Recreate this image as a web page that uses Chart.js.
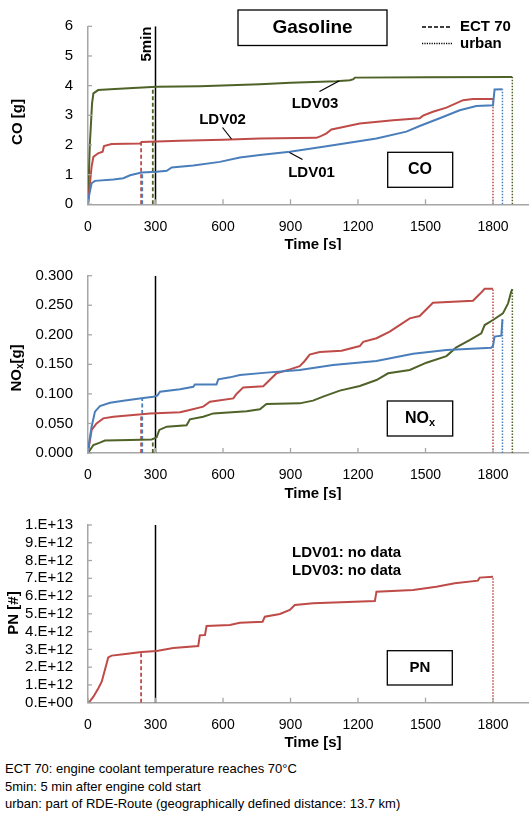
<!DOCTYPE html>
<html><head><meta charset="utf-8">
<script src="https://cdn.jsdelivr.net/npm/chart.js@4/dist/chart.umd.min.js"></script>
<style>
html,body{margin:0;padding:0;background:#fff;overflow:hidden;width:529px;height:813px;position:relative;}
canvas{position:absolute;left:0;}
#note{position:absolute;left:5px;top:760px;font:13px "Liberation Sans",Arial,sans-serif;line-height:17.7px;color:#000;white-space:nowrap;}
</style></head><body>
<canvas id="co" width="545" height="250" style="top:0px"></canvas>
<canvas id="nox" width="545" height="250" style="top:250px"></canvas>
<canvas id="pn" width="545" height="255" style="top:500px"></canvas>
<div id="note">ECT 70: engine coolant temperature reaches 70°C<br>5min: 5 min after engine cold start<br>urban: part of RDE-Route (geographically defined distance: 13.7 km)</div>
<script>
// ---------------- DATA ----------------
const timeTicks = [0, 300, 600, 900, 1200, 1500, 1800];
const coTickLabels = ['0','1','2','3','4','5','6'];
const noxTickLabels = ['0.000','0.050','0.100','0.150','0.200','0.250','0.300'];
const pnTickLabels = ['0.E+00','1.E+12','2.E+12','3.E+12','4.E+12','5.E+12','6.E+12','7.E+12','8.E+12','9.E+12','1.E+13'];

// CO [g]
const coT_LDV01 = [0, 5, 16, 31, 113, 157, 187, 238, 305, 350, 372, 468, 586, 675, 764, 897, 1060, 1282, 1415, 1474, 1563, 1652, 1726, 1800, 1807, 1842];
const coV_LDV01 = [0, 0.3, 0.71, 0.79, 0.84, 0.88, 0.98, 1.07, 1.10, 1.13, 1.24, 1.31, 1.43, 1.58, 1.66, 1.77, 1.96, 2.22, 2.45, 2.64, 2.90, 3.17, 3.31, 3.34, 3.87, 3.88];
const coT_LDV02 = [0, 6, 16, 24, 45, 65, 71, 105, 231, 238, 305, 409, 600, 764, 1015, 1035, 1060, 1082, 1119, 1208, 1356, 1474, 1489, 1533, 1593, 1667, 1711, 1800];
const coV_LDV02 = [0, 0.5, 1.27, 1.6, 1.72, 1.77, 1.96, 2.03, 2.05, 2.10, 2.12, 2.14, 2.18, 2.22, 2.24, 2.30, 2.39, 2.52, 2.58, 2.72, 2.83, 2.90, 2.99, 3.12, 3.26, 3.51, 3.55, 3.55];
const coT_LDV03 = [0, 8, 18, 24, 45, 100, 200, 305, 497, 764, 900, 1104, 1164, 1180, 1186, 1500, 1886];
const coV_LDV03 = [0, 2.0, 3.4, 3.74, 3.85, 3.88, 3.92, 3.96, 3.98, 4.05, 4.10, 4.15, 4.18, 4.22, 4.27, 4.28, 4.29];

// NOx [g]
const noxT_LDV01 = [0, 6, 16, 31, 53, 98, 157, 238, 290, 308, 320, 409, 468, 475, 571, 579, 631, 675, 793, 897, 941, 1089, 1282, 1445, 1593, 1792, 1800, 1807, 1837, 1842];
const noxV_LDV01 = [0, 0.02, 0.0445, 0.07, 0.0795, 0.085, 0.0885, 0.0925, 0.0953, 0.097, 0.1037, 0.108, 0.112, 0.116, 0.116, 0.1246, 0.128, 0.132, 0.136, 0.139, 0.1404, 0.149, 0.1557, 0.168, 0.1743, 0.178, 0.181, 0.197, 0.1985, 0.226];
const noxT_LDV02 = [0, 6, 16, 38, 68, 113, 238, 275, 409, 438, 512, 542, 646, 660, 690, 779, 838, 897, 941, 963, 985, 1030, 1127, 1208, 1223, 1282, 1341, 1385, 1430, 1474, 1533, 1711, 1741, 1763, 1800];
const noxV_LDV02 = [0, 0.015, 0.0389, 0.05, 0.0586, 0.0614, 0.0654, 0.067, 0.0688, 0.0716, 0.0784, 0.0868, 0.0924, 0.0998, 0.111, 0.113, 0.135, 0.1415, 0.147, 0.1557, 0.1665, 0.171, 0.173, 0.181, 0.188, 0.1942, 0.2053, 0.2165, 0.2278, 0.2318, 0.2543, 0.2577, 0.2689, 0.278, 0.278];
const noxT_LDV03 = [0, 24, 53, 75, 187, 283, 305, 317, 350, 438, 453, 512, 557, 705, 764, 793, 941, 1000, 1045, 1119, 1208, 1282, 1334, 1430, 1504, 1593, 1637, 1696, 1748, 1763, 1800, 1844, 1867, 1881, 1886];
const noxV_LDV03 = [0, 0.0135, 0.0175, 0.021, 0.022, 0.023, 0.0265, 0.039, 0.0445, 0.0468, 0.057, 0.0614, 0.067, 0.0705, 0.074, 0.083, 0.084, 0.0886, 0.0953, 0.1055, 0.1134, 0.1235, 0.1348, 0.1404, 0.1528, 0.164, 0.1787, 0.191, 0.2025, 0.2165, 0.225, 0.2363, 0.2532, 0.273, 0.2774];

// PN [#] (LDV02 only)
const pnT_LDV02 = [0, 10, 24, 46, 61, 75, 90, 105, 157, 238, 305, 379, 490, 497, 520, 527, 631, 675, 776, 786, 853, 897, 919, 1001, 1275, 1282, 1445, 1548, 1630, 1733, 1741, 1800];
const pnV_LDV02 = [0, 0.1e12, 0.34e12, 0.81e12, 1.18e12, 1.84e12, 2.55e12, 2.65e12, 2.72e12, 2.85e12, 2.91e12, 3.08e12, 3.19e12, 3.79e12, 3.81e12, 4.32e12, 4.37e12, 4.5e12, 4.56e12, 4.84e12, 4.99e12, 5.22e12, 5.5e12, 5.59e12, 5.72e12, 6.25e12, 6.34e12, 6.53e12, 6.72e12, 6.87e12, 7.04e12, 7.09e12];

// markers: ECT 70 (dashed), urban end (dotted), 5min (solid)
const ectTime = {LDV01: 241, LDV02: 236, LDV03: 288};
const urbanTime = {LDV01: 1842, LDV02: 1800, LDV03: 1886};
const fiveMin = 300;
const coEct = {LDV01: 1.07, LDV02: 2.10, LDV03: 3.96};
const coUrban = {LDV01: 3.88, LDV02: 3.55, LDV03: 4.29};
const noxEct = {LDV01: 0.0925, LDV02: 0.0654, LDV03: 0.023};
const noxUrban = {LDV01: 0.226, LDV02: 0.278, LDV03: 0.2774};
const pnEct = {LDV02: 2.85e12};
const pnUrban = {LDV02: 7.09e12};

// ---------------- STYLE ----------------
const FONT = '"Liberation Sans", Arial, sans-serif';
const COL = {LDV01: '#4a7ebb', LDV02: '#be4b48', LDV03: '#4f6228'};
const AXIS = '#a6a6a6';

function series(t, v, c) {
  return {data: t.map((x, i) => ({x: x, y: v[i]})), borderColor: c, borderWidth: 2, pointRadius: 0, tension: 0, fill: false, order: 1};
}
function vline(t, top, c, dash, w) {
  return {data: [{x: t, y: 0}, {x: t, y: top}], borderColor: c, borderWidth: w, borderDash: dash, pointRadius: 0, fill: false, order: 2};
}
function markers(ect, urban, yTop) {
  const out = [];
  Object.keys(ect).forEach(k => out.push(vline(ectTime[k], ect[k], COL[k], [4, 2.5], 1.8)));
  Object.keys(urban).forEach(k => out.push(vline(urbanTime[k], urban[k], COL[k], [1.5, 1.5], 1.5)));
  out.push(vline(fiveMin, yTop, '#000', [], 1.5));
  return out;
}

// drawing helpers
function txt(ctx, s, x, y, size, bold, align) {
  ctx.save();
  ctx.font = (bold ? 'bold ' : '') + size + 'px ' + FONT;
  ctx.fillStyle = '#000'; ctx.textAlign = align || 'center'; ctx.textBaseline = 'middle';
  ctx.fillText(s, x, y); ctx.restore();
}
function box(ctx, x1, y1, x2, y2, w) {
  ctx.save(); ctx.fillStyle = '#fff'; ctx.fillRect(x1, y1, x2 - x1, y2 - y1);
  ctx.strokeStyle = '#000'; ctx.lineWidth = w || 1.3; ctx.strokeRect(x1, y1, x2 - x1, y2 - y1); ctx.restore();
}
function seg(ctx, x1, y1, x2, y2, c, w, dash) {
  ctx.save(); ctx.strokeStyle = c; ctx.lineWidth = w; ctx.setLineDash(dash || []);
  ctx.beginPath(); ctx.moveTo(x1, y1); ctx.lineTo(x2, y2); ctx.stroke(); ctx.restore();
}
function richWidth(ctx, parts) {
  let w = 0; parts.forEach(p => { ctx.font = 'bold ' + p[1] + 'px ' + FONT; w += ctx.measureText(p[0]).width; }); return w;
}
function rich(ctx, parts, cx, cy, rot) {
  ctx.save(); ctx.translate(cx, cy); if (rot) ctx.rotate(-Math.PI / 2);
  const w = richWidth(ctx, parts); let x = -w / 2;
  ctx.fillStyle = '#000'; ctx.textBaseline = 'middle'; ctx.textAlign = 'left';
  parts.forEach(p => { ctx.font = 'bold ' + p[1] + 'px ' + FONT; ctx.fillText(p[0], x, p[2]); x += ctx.measureText(p[0]).width; });
  ctx.restore();
}
function common(ctx, chart, titleParts, tx, ty) {
  const xs = chart.scales.x, ys = chart.scales.y, a = chart.chartArea;
  ys.ticks.forEach(t => { const y = ys.getPixelForValue(t.value); seg(ctx, a.left, y, a.left + 4, y, AXIS, 1.3); });
  xs.ticks.forEach(t => { const x = xs.getPixelForValue(t.value); seg(ctx, x, a.bottom, x, a.bottom - 5, AXIS, 1.3); });
  rich(ctx, titleParts, tx, ty, true);
  txt(ctx, 'Time [s]', 313, a.bottom + 40.5, 15, true);
}

function build(id, H, top, bottom, yMin, yMax, yStep, labels, datasets, decor) {
  return new Chart(document.getElementById(id), {
    type: 'line',
    data: {datasets: datasets},
    options: {
      responsive: false, animation: false, events: [],
      layout: {padding: {top: top, right: 7, left: 0, bottom: 0}},
      plugins: {legend: {display: false}, tooltip: {enabled: false}},
      scales: {
        x: {type: 'linear', min: 0, max: 2000,
            afterBuildTicks: s => { s.ticks = timeTicks.map(v => ({value: v})); },
            ticks: {callback: (v, i) => String(timeTicks[i]), padding: 14, color: '#000', font: {size: 14, family: FONT}, maxRotation: 0, autoSkip: false},
            grid: {drawOnChartArea: false, drawTicks: false}, border: {color: AXIS, width: 1.5},
            afterFit: s => { s.height = H - bottom; }},
        y: {type: 'linear', min: yMin, max: yMax,
            afterBuildTicks: s => { s.ticks = labels.map((l, i) => ({value: yMin + i * yStep})); },
            ticks: {callback: (v, i) => labels[i], padding: 15, color: '#000', font: {size: 15, family: FONT}, autoSkip: false},
            grid: {drawOnChartArea: false, drawTicks: false}, border: {color: AXIS, width: 1.5},
            afterFit: s => { s.width = 88; }}
      }
    },
    plugins: [{id: 'decor', afterDatasetsDraw(chart) { decor(chart.ctx, chart); }}]
  });
}

// ---------------- CO ----------------
build('co', 250, 26.3, 204.3, 0, 6, 1, coTickLabels,
  [series(coT_LDV01, coV_LDV01, COL.LDV01), series(coT_LDV02, coV_LDV02, COL.LDV02), series(coT_LDV03, coV_LDV03, COL.LDV03)]
    .concat(markers(coEct, coUrban, 6)),
  (ctx, chart) => {
    common(ctx, chart, [['CO [g]', 15, 0]], 18, 122);
    ctx.save(); ctx.translate(146.5, 44); ctx.rotate(-Math.PI / 2);
    txt(ctx, '5min', 0, 0, 15, true); ctx.restore();
    box(ctx, 238, 10, 387, 45.5, 1.3);
    txt(ctx, 'Gasoline', 312.5, 28, 19, true);
    seg(ctx, 422, 27, 452, 27, '#000', 1.5, [4, 2]);
    txt(ctx, 'ECT 70', 460, 27, 15, true, 'left');
    seg(ctx, 422, 43.5, 452, 43.5, '#000', 1.5, [1.2, 1.2]);
    txt(ctx, 'urban', 460, 43.5, 15, true, 'left');
    txt(ctx, 'LDV03', 315, 103.5, 15, true);
    seg(ctx, 319.5, 91.5, 339, 81, '#000', 1.2);
    txt(ctx, 'LDV02', 222.5, 119.5, 15, true);
    seg(ctx, 222.5, 127.5, 231.5, 139, '#000', 1.2);
    txt(ctx, 'LDV01', 311.5, 173, 15, true);
    seg(ctx, 302.5, 159.5, 289.5, 152.5, '#000', 1.2);
    box(ctx, 387.7, 152.3, 452.7, 187.3, 1.3);
    txt(ctx, 'CO', 420, 170, 16, true);
  });

// ---------------- NOx ----------------
build('nox', 250, 25.7, 203, 0, 0.3, 0.05, noxTickLabels,
  [series(noxT_LDV01, noxV_LDV01, COL.LDV01), series(noxT_LDV02, noxV_LDV02, COL.LDV02), series(noxT_LDV03, noxV_LDV03, COL.LDV03)]
    .concat(markers(noxEct, noxUrban, 0.3)),
  (ctx, chart) => {
    common(ctx, chart, [['NO', 15, 0], ['x', 10, 4], ['[g]', 15, 0]], 16.5, 118);
    box(ctx, 387.3, 151, 452.7, 186, 1.3);
    rich(ctx, [['NO', 16, 0], ['x', 11, 4]], 420, 168.5, false);
  });

// ---------------- PN ----------------
build('pn', 255, 25, 202.7, 0, 1e13, 1e12, pnTickLabels,
  [series(pnT_LDV02, pnV_LDV02, COL.LDV02)].concat(markers(pnEct, pnUrban, 1e13)),
  (ctx, chart) => {
    common(ctx, chart, [['PN [#]', 15, 0]], 14, 113);
    txt(ctx, 'LDV01: no data', 292, 53.3, 15, true, 'left');
    txt(ctx, 'LDV03: no data', 292, 71, 15, true, 'left');
    box(ctx, 387.3, 150.7, 452.3, 185, 1.3);
    txt(ctx, 'PN', 420, 168, 15, true);
  });
</script>
</body></html>
